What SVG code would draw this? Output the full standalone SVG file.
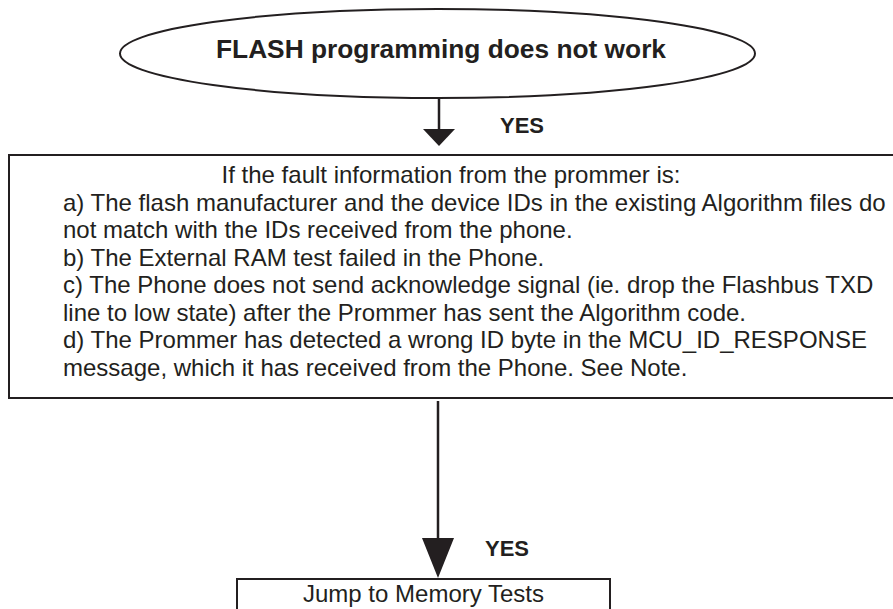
<svg xmlns="http://www.w3.org/2000/svg" width="893" height="609" viewBox="0 0 893 609">
  <style>
    .shape { fill: #ffffff; stroke: #231f20; stroke-width: 2; }
    .wire { stroke: #231f20; stroke-width: 2.5; fill: none; }
    .head { fill: #231f20; }
    text { font-family: "Liberation Sans", Arial, sans-serif; fill: #231f20; }
    .title { font-size: 26.3px; font-weight: bold; }
    .label { font-size: 22px; font-weight: bold; }
    .body { font-size: 24px; }
  </style>
  <rect width="893" height="609" fill="#ffffff"/>

  <!-- connectors -->
  <g id="connectors">
    <line class="wire" x1="439" y1="98" x2="439" y2="131"/>
    <polygon class="head" points="423,129 455,129 439,146"/>
    <text class="label" x="500" y="133">YES</text>

    <line class="wire" x1="438" y1="401" x2="438" y2="540"/>
    <polygon class="head" points="422,538 454,538 438,578"/>
    <text class="label" x="485" y="556">YES</text>
  </g>

  <!-- start terminator -->
  <g id="start">
    <ellipse class="shape" cx="437.5" cy="53.5" rx="317.5" ry="44.5"/>
    <text class="title" x="441" y="58" text-anchor="middle">FLASH programming does not work</text>
  </g>

  <!-- fault description -->
  <g id="fault-info">
    <rect class="shape" x="9" y="155" width="895" height="243"/>
    <text class="body" x="451" y="183" text-anchor="middle">If the fault information from the prommer is:</text>
    <text class="body" x="63" y="210.5">a) The flash manufacturer and the device IDs in the existing Algorithm files do</text>
    <text class="body" x="63" y="238">not match with the IDs received from the phone.</text>
    <text class="body" x="63" y="265.5">b) The External RAM test failed in the Phone.</text>
    <text class="body" x="63" y="293">c) The Phone does not send acknowledge signal (ie. drop the Flashbus TXD</text>
    <text class="body" x="63" y="320.5">line to low state) after the Prommer has sent the Algorithm code.</text>
    <text class="body" x="63" y="348">d) The Prommer has detected a wrong ID byte in the MCU_ID_RESPONSE</text>
    <text class="body" x="63" y="375.5">message, which it has received from the Phone. See Note.</text>
  </g>

  <!-- next step -->
  <g id="memory-tests">
    <rect class="shape" x="237" y="579" width="373" height="50"/>
    <text class="body" x="423.5" y="602" text-anchor="middle">Jump to Memory Tests</text>
  </g>
</svg>
